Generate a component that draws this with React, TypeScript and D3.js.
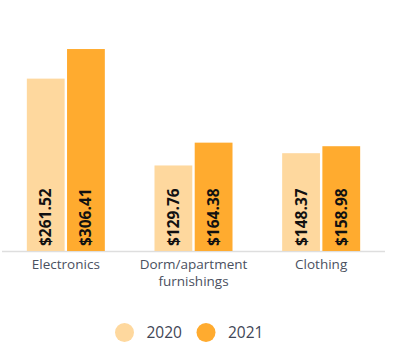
import React from "react";
import * as d3 from "d3";

const categories = ["Electronics", "Dorm/apartment furnishings", "Clothing"];
const categoryLines = [["Electronics"], ["Dorm/apartment", "furnishings"], ["Clothing"]];
const seriesNames = ["2020", "2021"];
const values2020 = [261.52, 129.76, 148.37];
const values2021 = [306.41, 164.38, 158.98];
const colors = ["#FED89E", "#FFAB2F"];

const W = 394;
const H = 359;

export default function App() {
  const x0 = d3.scaleBand<string>().domain(categories).range([2, 385]).paddingInner(0.389).paddingOuter(0.1945);
  const x1 = d3.scaleBand<string>().domain(seriesNames).range([0, x0.bandwidth()]).paddingInner(0.06);
  const y = d3.scaleLinear().domain([0, 350]).range([251, 20.3]);
  const series = [values2020, values2021];
  const color = d3.scaleOrdinal<string, string>().domain(seriesNames).range(colors);

  return (
    <svg width={W} height={H} style={{ position: "absolute", left: 0, top: 0 }} fontFamily="'Open Sans', 'DejaVu Sans', sans-serif">
      <line x1={2} x2={385} y1={y(0) + 0.5} y2={y(0) + 0.5} stroke="#dedede" strokeWidth={1.5} />
      {categories.map((c, ci) => {
        const cx0 = (x0(c) as number) + x0.bandwidth() / 2;
        return (
          <g key={c}>
            {seriesNames.map((s, si) => {
              const v = series[si][ci];
              const bx = (x0(c) as number) + (x1(s) as number);
              const bw = x1.bandwidth();
              const cx = bx + bw / 2;
              return (
                <g key={s}>
                  <rect x={bx} y={y(v)} width={bw} height={y(0) - y(v)} fill={color(s)} />
                  <text
                    transform={`translate(${cx + 5.5},${y(0) - 5}) rotate(-90)`}
                    fontSize={15.5}
                    fontWeight="bold"
                    fill="#111"
                    textAnchor="start"
                  >
                    ${v.toFixed(2)}
                  </text>
                </g>
              );
            })}
            <text x={cx0} y={268.5} textAnchor="middle" fontSize={13.5} fill="#4a5060">
              {categoryLines[ci].map((line, li) => (
                <tspan key={line} x={cx0} dy={li === 0 ? 0 : 17.5}>
                  {line}
                </tspan>
              ))}
            </text>
          </g>
        );
      })}
      {seriesNames.map((s, i) => (
        <g key={s} transform={`translate(${124.5 + i * 81.5},332.5)`}>
          <circle r={9.5} fill={color(s)} />
          <text x={22} y={5.5} fontSize={15.5} fill="#3f4656">
            {s}
          </text>
        </g>
      ))}
    </svg>
  );
}
